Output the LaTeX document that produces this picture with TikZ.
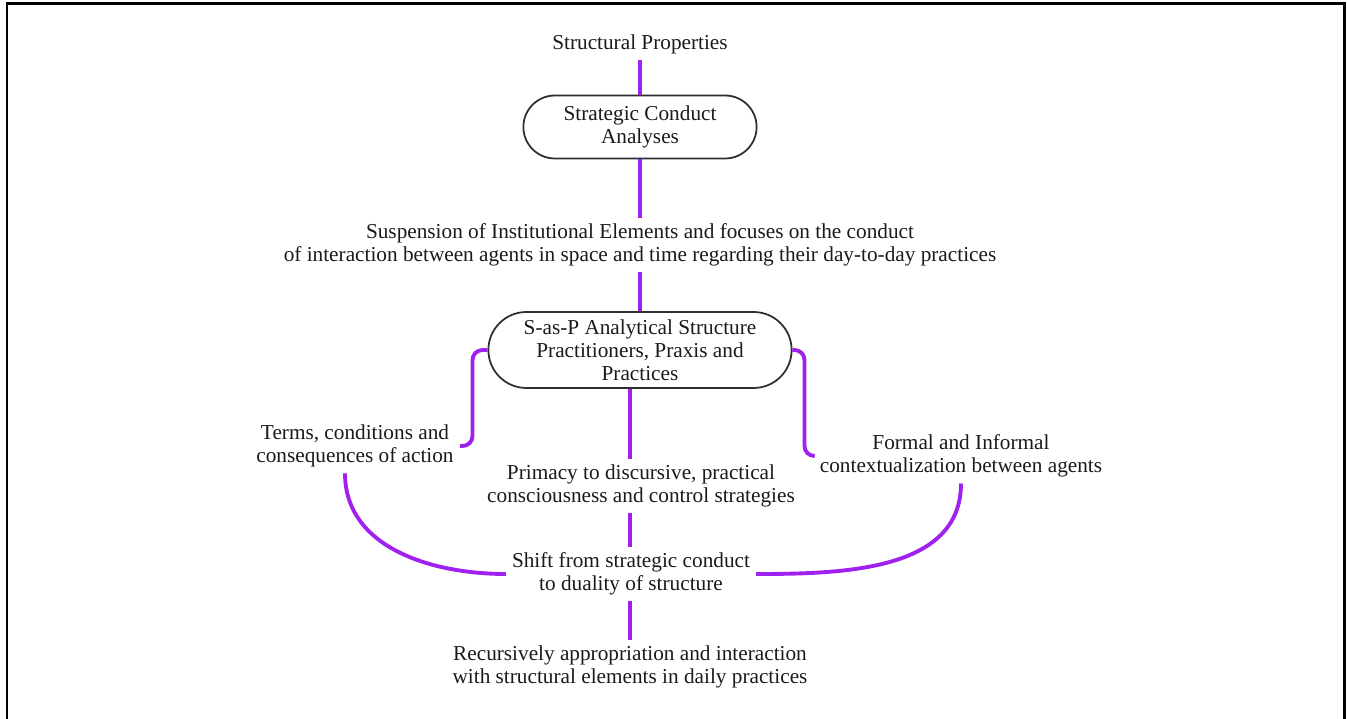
\documentclass[tikz,border=0pt]{standalone}
\usepackage{fontspec}
\setmainfont{Liberation Serif}
\usepackage{xcolor}
\usepackage{tikz}
\usetikzlibrary{positioning, calc, shapes.misc}
\definecolor{linkpurple}{HTML}{A020F0}
\definecolor{boxgrey}{HTML}{2E2E2E}
\definecolor{inkgrey}{HTML}{1A1A1A}

\tikzset{
  stadium/.style={draw=boxgrey, line width=1pt, rounded rectangle, align=center, text=inkgrey},
  plaintext/.style={align=center, text=inkgrey},
  link/.style={draw=linkpurple, line width=2.2pt, rounded corners=0.2cm}
}

\begin{document}
\begin{tikzpicture}[x=0.02cm, y=-0.02cm, font=\fontsize{12.1}{13.1}\selectfont]
    \useasboundingbox (0,0) rectangle (1347,719);
    \draw[line width=0.06cm] (7,725) -- (7,4) -- (1344,4) -- (1344,725);

    % boxes and texts
    \node[plaintext] (sp) at (640,44) {Structural Properties};
    \node[stadium, minimum width=4.9cm, minimum height=1.26cm] (sca) at (640,127)
      {Strategic Conduct\\Analyses};
    \node[plaintext] (susp) at (640,245)
      {Suspension of Institutional Elements and focuses on the conduct\\
       of interaction between agents in space and time regarding their day-to-day practices};
    \node[stadium, minimum width=6.3cm, minimum height=1.52cm] (sasp) at (640,350)
      {S-as-P Analytical Structure\\Practitioners, Praxis and\\Practices};
    \node[plaintext] (terms) at (355,446) {Terms, conditions and\\consequences of action};
    \node[plaintext] (formal) at (961,456) {Formal and Informal\\contextualization between agents};
    \node[plaintext] (prim) at (641,486)
      {Primacy to discursive, practical\\consciousness and control strategies};
    \node[plaintext] (shift) at (631,574) {Shift from strategic conduct\\to duality of structure};
    \node[plaintext] (rec) at (630,667)
      {Recursively appropriation and interaction\\with structural elements in daily practices};

    % connectors
    \draw[link] (sp.south) -- (sca.north);
    \draw[link] (sca.south) -- (susp.north);
    \draw[link] (susp.south) -- (sasp.north);
    \draw[link] (sasp.south -| rec) -- (prim.north -| rec);
    \draw[link] (prim.south -| rec) -- (shift.north -| rec);
    \draw[link] (shift.south -| rec) -- (rec.north);
    \draw[link] (sasp.west) -- ++(-15,0) |- (terms.east);
    \draw[link] (sasp.east) -- ++(12,0) |- (formal.west);
    \draw[link] ([xshift=-0.2cm]terms.south) to[out=-90, in=180] (shift.west);
    \draw[link] (formal.south) to[out=-90, in=0] (shift.east);
\end{tikzpicture}
\end{document}
